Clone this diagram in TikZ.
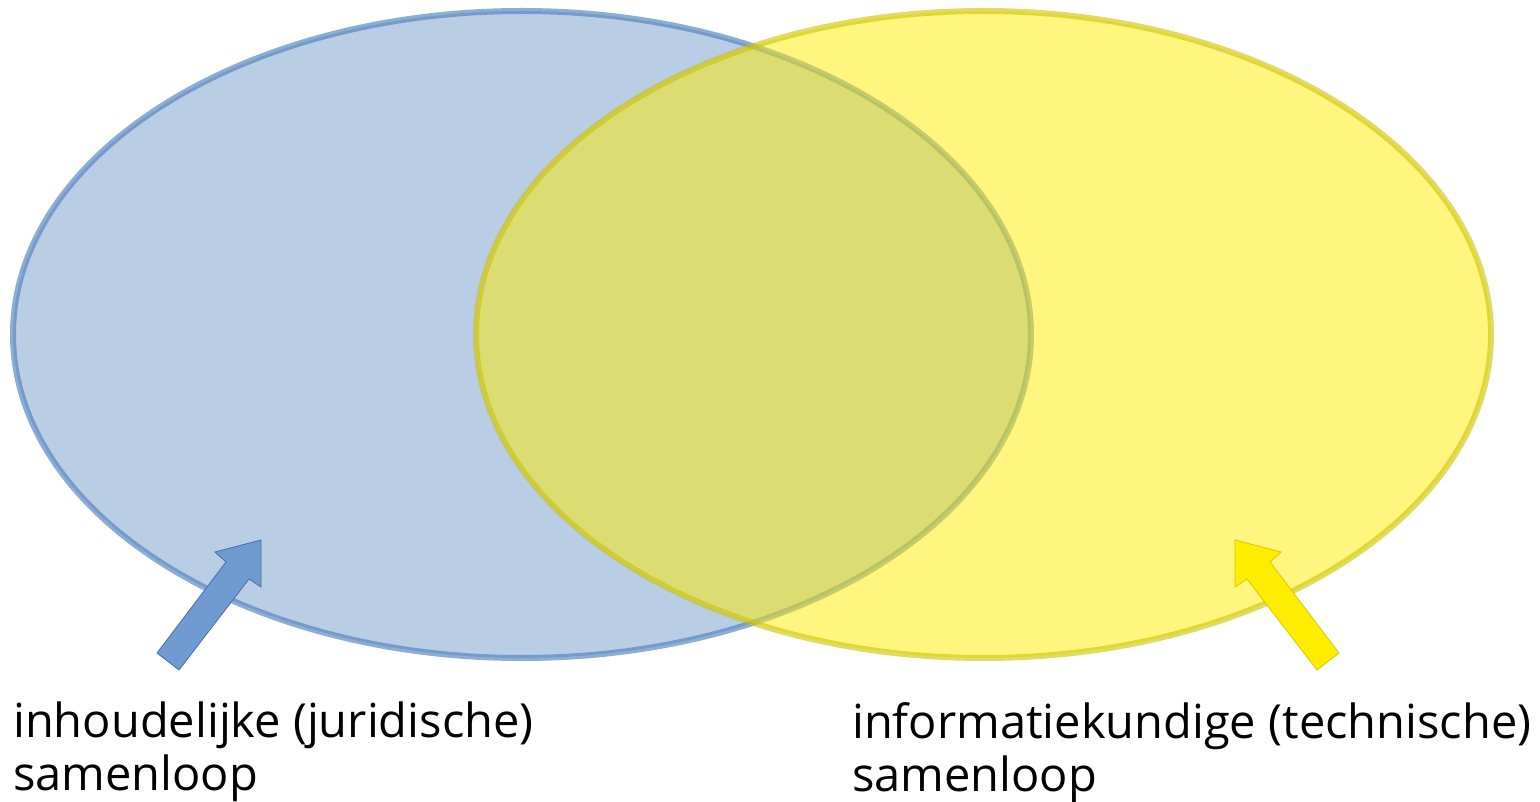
\documentclass[tikz,border=0pt]{standalone}
\usepackage{fontspec}
\setmainfont{Open Sans}
\definecolor{bluefill}{RGB}{79,129,189}
\definecolor{bluearrow}{RGB}{112,155,208}
\definecolor{bluearrowline}{RGB}{70,110,170}
\definecolor{yelfill}{RGB}{255,236,0}
\definecolor{yelline}{RGB}{205,195,0}
\definecolor{yelarrow}{RGB}{255,237,0}
\definecolor{yelarrowline}{RGB}{215,200,0}
\tikzset{
  setblue/.style={fill=bluefill,fill opacity=0.4,draw=bluefill,draw opacity=0.65,line width=6pt},
  setyellow/.style={fill=yelfill,fill opacity=0.5,draw=yelline,draw opacity=0.6,line width=6pt},
  bluearr/.style={fill=bluearrow,draw=bluearrowline,line width=0.8pt,line join=miter},
  yelarr/.style={fill=yelarrow,draw=yelarrowline,line width=0.8pt,line join=miter},
  label/.style={font=\fontsize{47}{53}\selectfont,align=left,inner sep=0pt,anchor=north west,text=black}
}
\begin{document}
\begin{tikzpicture}[x=1pt,y=-1pt]
\useasboundingbox (0,0) rectangle (1540,802);
% sets
\coordinate (cl) at (522,334.5);
\coordinate (cr) at (983.5,334.5);
\draw[setblue] (cl) ellipse [x radius=509, y radius=323.5];
\draw[setyellow] (cr) ellipse [x radius=507.5, y radius=323.5];
% blue arrow
\coordinate (bT1) at (157,653);
\coordinate (bT2) at (179,670);
\coordinate (bJ2) at (249,579);
\coordinate (bH2) at (261,587);
\coordinate (bTip) at (261,540);
\coordinate (bH1) at (215,552);
\coordinate (bJ1) at (226,562);
\draw[bluearr] (bT1) -- (bT2) -- (bJ2) -- (bH2) -- (bTip) -- (bH1) -- (bJ1) -- cycle;
% yellow arrow
\coordinate (yT1) at (1339,653);
\coordinate (yT2) at (1317,670);
\coordinate (yJ2) at (1247,579);
\coordinate (yH2) at (1235,587);
\coordinate (yTip) at (1235,540);
\coordinate (yH1) at (1281,552);
\coordinate (yJ1) at (1270,562);
\draw[yelarr] (yT1) -- (yT2) -- (yJ2) -- (yH2) -- (yTip) -- (yH1) -- (yJ1) -- cycle;
% labels
\node[label] (lj) at (13,702) {inhoudelijke (juridische)\\samenloop};
\node[label] (lt) at (852,702) {informatiekundige (technische)\\samenloop};
\end{tikzpicture}
\end{document}
